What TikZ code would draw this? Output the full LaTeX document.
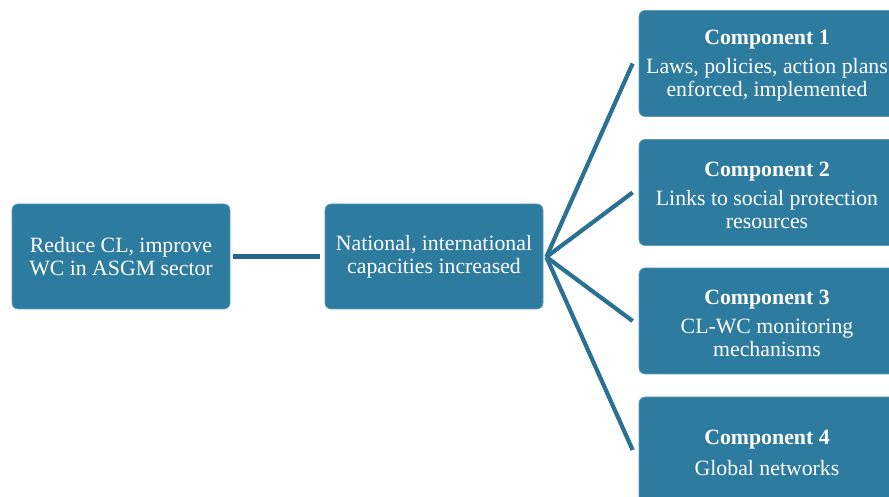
\documentclass[tikz,border=0pt]{standalone}
\usepackage{fontspec}
\setmainfont{Liberation Serif}
\definecolor{boxblue}{HTML}{2E7BA0}
\definecolor{boxedge}{HTML}{5E9CBB}
\definecolor{linkblue}{HTML}{2A7194}
\definecolor{linkdark}{HTML}{25668A}
\begin{document}
\begin{tikzpicture}[x=1pt,y=1pt,
  txt/.style={text=white, align=center, font=\fontsize{21.8}{23}\selectfont},
  box/.style={rectangle, rounded corners=6pt, fill=boxblue, draw=boxedge, line width=0.7pt,
    txt, inner sep=0pt},
  comp/.style={box, minimum width=256, minimum height=106},
  ctext/.style={label={[txt, yshift=-2.5pt]center:{#1}}},
  link/.style={draw=linkblue, line width=4.2pt}]
\useasboundingbox (0,0) rectangle (889,497);
\node[box, minimum width=218, minimum height=105] (goal) at (121,240.5) {Reduce CL, improve\\WC in ASGM sector};
\node[box, minimum width=218, minimum height=105] (mid) at (434,240.5) {National, international\\capacities increased};
\node[comp, ctext={\textbf{Component 1}\\[6pt]Laws, policies, action plans\\enforced, implemented}] (c1) at (767,433.5) {};
\node[comp, ctext={\textbf{Component 2}\\[6pt]Links to social protection\\resources}] (c2) at (767,304.5) {};
\node[comp, ctext={\textbf{Component 3}\\[6pt]CL-WC monitoring\\mechanisms}] (c3) at (767,176) {};
\node[comp, ctext={\textbf{Component 4}\\[8pt]Global networks}] (c4) at (767,47) {};
\coordinate (hub) at ([xshift=3pt,yshift=-0.5pt]mid.east);
\draw[link, draw=linkdark, line width=5pt] ([xshift=3pt,yshift=-0.5pt]goal.east) -- ([xshift=-5pt,yshift=-0.5pt]mid.west);
\foreach \c in {c1,c2,c3,c4}
  \draw[link] (hub) -- ([xshift=-6pt]\c.west);
\end{tikzpicture}
\end{document}
